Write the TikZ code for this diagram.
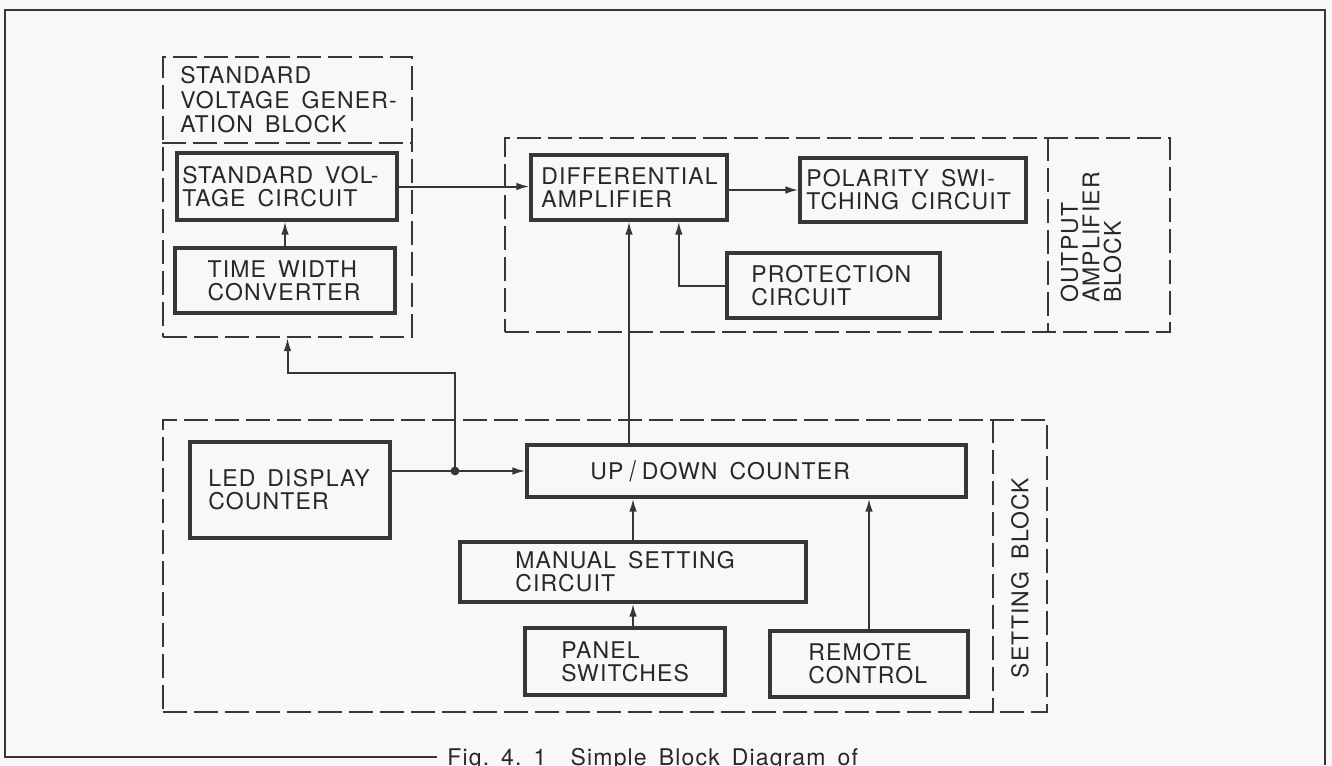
\documentclass[tikz,border=0pt]{standalone}
\usepackage{fontspec}
\setmainfont{TeX Gyre Heros}[LetterSpace=5,WordSpace=1.6]
\usetikzlibrary{fit,arrows.meta,calc}
\definecolor{ink}{HTML}{3B3632}
\definecolor{txtc}{HTML}{2A2826}
\definecolor{bgc}{HTML}{F7F8F7}
\tikzset{
  blk/.style={draw=ink, line width=1.6pt, inner sep=0pt, rectangle},
  dbox/.style={draw=ink, line width=1.1pt, dash pattern=on 12pt off 3.5pt, inner sep=0pt, rectangle},
  dln/.style={draw=ink, line width=1.1pt, dash pattern=on 12pt off 3.5pt},
  lbl/.style={inner sep=0pt, align=left, text=txtc},
  wire/.style={draw=ink, line width=1pt},
  arr/.style={wire, -{Latex[length=6.5pt,width=3.8pt]}},
}
\begin{document}
\begin{tikzpicture}[x=0.5pt, y=-0.5pt, font=\fontsize{11.5}{11.5}\selectfont]
\fill[bgc] (0,0) rectangle (1332,765);
\useasboundingbox (0,0) rectangle (1332,765);

% outer frame
\draw[wire] (437,757) -- (5,757) -- (5,10) -- (1325,10) -- (1325,765);

% dashed blocks
\node[dbox, fit={(163,57) (412,337)}] (svgblk) {};
\coordinate (svgdiv) at (0,143);
\draw[dln] (svgblk.west |- svgdiv) -- (svgblk.east |- svgdiv);
\node[dbox, fit={(505,138) (1170,332)}] (outblk) {};
\coordinate (outdiv) at (1048,0);
\draw[dln] (outblk.north -| outdiv) -- (outblk.south -| outdiv);
\node[dbox, fit={(163,420) (1047,712)}] (setblk) {};
\coordinate (setdiv) at (993,0);
\draw[dln] (setblk.north -| setdiv) -- (setblk.south -| setdiv);

% solid blocks
\node[blk, fit={(177,153) (397,220)}] (svc) {};
\node[blk, fit={(175,248) (395,313)}] (twc) {};
\node[blk, fit={(531,155) (727,220)}] (diff) {};
\node[blk, fit={(800,158) (1026,222)}] (pol) {};
\node[blk, fit={(727,253) (940,318)}] (prot) {};
\node[blk, fit={(190,442) (390,538)}] (led) {};
\node[blk, fit={(527,445) (966,497)}] (ud) {};
\node[blk, fit={(460,542) (806,602)}] (man) {};
\node[blk, fit={(525,628) (725,695)}] (pan) {};
\node[blk, fit={(770,631) (968,697)}] (rem) {};

% texts
\node[lbl, anchor=west, font=\fontsize{11.5}{12.25}\selectfont] (svg-t) at (180,100) {STANDARD\\VOLTAGE GENER-\\ATION BLOCK};
\node[lbl, anchor=west] (svc-t) at (182,186.5) {STANDARD VOL-\\TAGE CIRCUIT};
\node[lbl] (twc-t) at (284,280.5) {TIME WIDTH\\CONVERTER};
\node[lbl, anchor=west] (diff-t) at (541,188) {DIFFERENTIAL\\AMPLIFIER};
\node[lbl, anchor=west] (pol-t) at (806,190) {POLARITY SWI-\\TCHING CIRCUIT};
\node[lbl, anchor=west] (prot-t) at (751,285.5) {PROTECTION\\CIRCUIT};
\node[lbl, anchor=west] (led-t) at (208,490) {LED DISPLAY\\COUNTER};
\node[lbl, anchor=west] (ud-t) at (590,471) {UP\kern3pt\raisebox{-1pt}{\scalebox{1}[1.25]{/}}\kern3pt DOWN COUNTER};
\node[lbl, anchor=west] (man-t) at (515,572) {MANUAL SETTING\\CIRCUIT};
\node[lbl, anchor=west] (pan-t) at (561,661.5) {PANEL\\SWITCHES};
\node[lbl, anchor=west] (rem-t) at (808,664) {REMOTE\\CONTROL};
\node[lbl, rotate=90, font=\fontsize{11.5}{10.75}\selectfont] (out-t) at (1091,237.5) {OUTPUT\\AMPLIFIER\\BLOCK};
\node[lbl, rotate=90] (set-t) at (1020,578) {SETTING BLOCK};
\node[lbl, anchor=base west] (cap) at (447,765) {Fig.\ 4.\ 1\ \ Simple Block Diagram of};

% connectors
\draw[arr] (svc.east) -- (svc.east -| diff.west);
\draw[arr] (twc.north) -- (twc.north |- svc.south);
\draw[arr] (pol.west -| diff.east) -- (pol.west);
\draw[arr] (prot.west) -| ($(diff.south)!0.5!(diff.south east)$);
\draw[arr] (diff.south |- ud.north) -- (diff.south);
\draw[arr] (led.east |- ud.west) -- (ud.west);
\coordinate (j) at (455,471);
\coordinate (k) at (455,373);
\fill[ink] (j) circle[radius=2.2pt];
\draw[arr] (j) -- (k) -| (svgblk.south);
\draw[arr] (man.north) -- (man.north |- ud.south);
\draw[arr] (pan.north -| man.south) -- (man.south);
\draw[arr] (rem.north) -- (rem.north |- ud.south);
\end{tikzpicture}
\end{document}
